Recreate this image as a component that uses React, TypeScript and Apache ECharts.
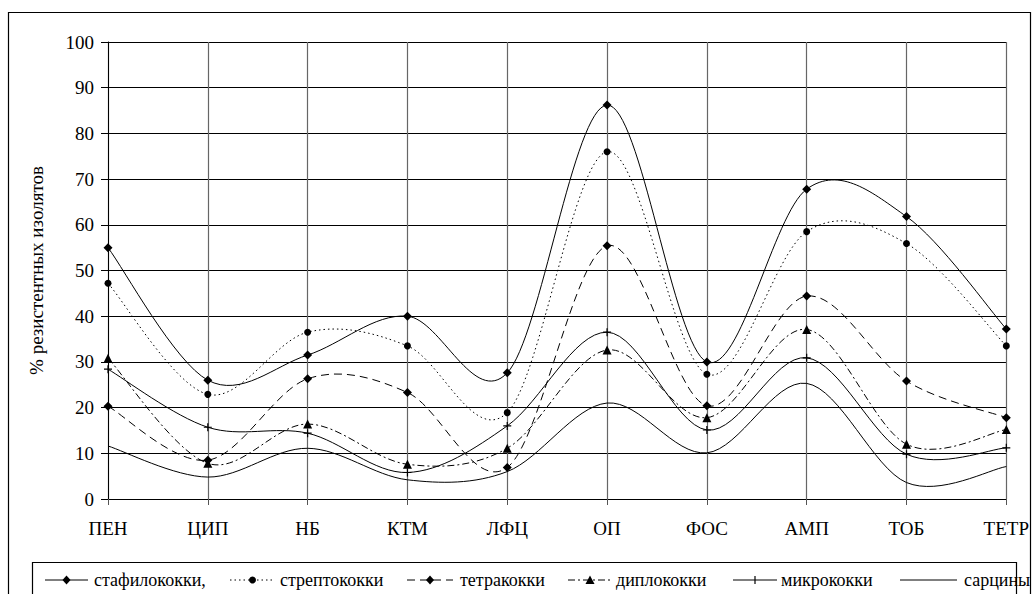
import React, { useEffect, useRef } from 'react';
import * as echarts from 'echarts';

const categories = ['ПЕН', 'ЦИП', 'НБ', 'КТМ', 'ЛФЦ', 'ОП', 'ФОС', 'АМП', 'ТОБ', 'ТЕТР'];
const seriesNames = ['стафилококки,', 'стрептококки', 'тетракокки', 'диплококки', 'микрококки', 'сарцины'];
const staphylococci = [55, 26, 31.5, 40, 27.6, 86.2, 30, 67.8, 61.8, 37.2];
const streptococci = [47.2, 22.9, 36.5, 33.5, 18.9, 76, 27.3, 58.5, 55.9, 33.5];
const tetracocci = [20.3, 8.5, 26.3, 23.3, 6.9, 55.4, 20.4, 44.4, 25.8, 17.8];
const diplococci = [30.8, 7.8, 16.4, 7.6, 11.1, 32.6, 17.8, 37.1, 12, 15.2];
const micrococci = [28.4, 15.7, 14.4, 5.8, 16, 36.5, 15.1, 30.9, 9.8, 11.2];
const sarcinae = [11.6, 4.8, 11.1, 4.2, 6, 21, 10.1, 25.3, 3.6, 7.1];
const yMin = 0;
const yMax = 100;
const yStep = 10;
const yAxisTitle = '% резистентных изолятов';

const FONT_X = 'serif';
const FONT_Y = 'Times New Roman';
const FONT_NAME = 'Liberation Serif';
const FONT_LEGEND = 'Times New Roman';
const PLUS = 'path://M-0.6,-4H0.6V-0.6H4V0.6H0.6V4H-0.6V0.6H-4V-0.6H-0.6Z';

type Spec = {
  name: string;
  data: number[];
  symbol: string;
  size: number;
  dash: number[] | null;
};

const specs: Spec[] = [
  { name: seriesNames[0], data: staphylococci, symbol: 'diamond', size: 9, dash: null },
  { name: seriesNames[1], data: streptococci, symbol: 'circle', size: 7, dash: [1.5, 3] },
  { name: seriesNames[2], data: tetracocci, symbol: 'diamond', size: 9, dash: [8, 5] },
  { name: seriesNames[3], data: diplococci, symbol: 'triangle', size: 9, dash: [7, 3, 2, 3] },
  { name: seriesNames[4], data: micrococci, symbol: PLUS, size: 8, dash: null },
  { name: seriesNames[5], data: sarcinae, symbol: 'none', size: 0, dash: null },
];

// Excel-like (Catmull-Rom) smoothed curve through the data, in pixel space
function curveSeries(s: Spec) {
  return {
    type: 'custom',
    data: [[0, 0]],
    silent: true,
    z: 2,
    clip: false,
    renderItem: (_params: any, api: any) => {
      const pts = s.data.map((v, i) => api.coord([i, v]));
      let d = `M${pts[0][0]},${pts[0][1]}`;
      for (let i = 0; i < pts.length - 1; i++) {
        const p0 = pts[i - 1] || pts[i];
        const p1 = pts[i];
        const p2 = pts[i + 1];
        const p3 = pts[i + 2] || pts[i + 1];
        const c1x = p1[0] + (p2[0] - p0[0]) / 6;
        const c1y = p1[1] + (p2[1] - p0[1]) / 6;
        const c2x = p2[0] - (p3[0] - p1[0]) / 6;
        const c2y = p2[1] - (p3[1] - p1[1]) / 6;
        d += ` C${c1x},${c1y} ${c2x},${c2y} ${p2[0]},${p2[1]}`;
      }
      return {
        type: 'path',
        shape: { pathData: d },
        style: {
          fill: 'none',
          stroke: '#000',
          lineWidth: 1,
          lineDash: s.dash || undefined,
        },
      };
    },
  };
}

function markerSeries(s: Spec) {
  return {
    type: 'scatter',
    name: s.name,
    data: s.data,
    symbol: s.symbol,
    symbolSize: s.size,
    itemStyle: { color: '#000', opacity: 1 },
    silent: true,
    z: 4,
  };
}

function legendGraphics() {
  const lines = [
    [45, 88, 94],
    [230, 275, 280],
    [407, 453, 460],
    [568, 612, 616],
    [733, 777, 781],
    [900, 957, 964],
  ];
  const y = 580;
  const els: any[] = [];
  specs.forEach((s, i) => {
    const [x1, x2, tx] = lines[i];
    const cx = (x1 + x2) / 2;
    els.push({
      type: 'line',
      shape: { x1, y1: y, x2, y2: y },
      style: { stroke: '#000', lineWidth: 1, lineDash: s.dash || undefined },
      silent: true,
    });
    if (s.symbol === 'diamond') {
      els.push({
        type: 'polygon',
        shape: { points: [[cx, y - 4.5], [cx + 4, y], [cx, y + 4.5], [cx - 4, y]] },
        style: { fill: '#000' },
        silent: true,
      });
    } else if (s.symbol === 'circle') {
      els.push({ type: 'circle', shape: { cx, cy: y, r: 3.5 }, style: { fill: '#000' }, silent: true });
    } else if (s.symbol === 'triangle') {
      els.push({
        type: 'polygon',
        shape: { points: [[cx, y - 4.5], [cx + 4.5, y + 4], [cx - 4.5, y + 4]] },
        style: { fill: '#000' },
        silent: true,
      });
    } else if (s.symbol === PLUS) {
      els.push({
        type: 'line',
        shape: { x1: cx, y1: y - 4, x2: cx, y2: y + 4 },
        style: { stroke: '#000', lineWidth: 1.2 },
        silent: true,
      });
    }
    els.push({
      type: 'text',
      x: tx,
      y,
      style: {
        text: s.name,
        fill: '#000',
        font: `18px ${FONT_LEGEND}`,
        verticalAlign: 'middle',
      },
      silent: true,
    });
  });
  return els;
}

export default function App() {
  const ref = useRef<HTMLDivElement>(null);
  useEffect(() => {
    if (!ref.current) return;
    const chart = echarts.init(ref.current, null, { renderer: 'svg' });
    chart.setOption({
      animation: false,
      backgroundColor: '#fff',
      grid: { left: 108, right: 25, top: 42, bottom: 95 },
      xAxis: {
        type: 'category',
        data: categories,
        boundaryGap: false,
        axisLine: { lineStyle: { color: '#000', width: 1 } },
        axisTick: { show: true, length: 6, lineStyle: { color: '#555' } },
        axisLabel: { color: '#000', fontSize: 19, fontFamily: FONT_X, margin: 20 },
        splitLine: { show: true, lineStyle: { color: '#666', width: 1.2 } },
      },
      yAxis: {
        type: 'value',
        min: yMin,
        max: yMax,
        interval: yStep,
        name: yAxisTitle,
        nameLocation: 'middle',
        nameGap: 62,
        nameTextStyle: { color: '#000', fontSize: 19, fontFamily: FONT_NAME },
        axisLine: { show: true, lineStyle: { color: '#000', width: 1 } },
        axisTick: { show: true, length: 7, lineStyle: { color: '#000' } },
        axisLabel: { color: '#000', fontSize: 19, fontFamily: FONT_Y, margin: 14 },
        splitLine: { show: true, lineStyle: { color: '#000', width: 1 } },
      },
      graphic: [
        {
          type: 'rect',
          shape: { x: 8.5, y: 12.5, width: 1022, height: 600 },
          style: { fill: 'none', stroke: '#000', lineWidth: 1.2 },
          silent: true,
        },
        {
          type: 'rect',
          shape: { x: 32.5, y: 562.5, width: 984, height: 60 },
          style: { fill: 'none', stroke: '#000', lineWidth: 1.2 },
          silent: true,
        },
        ...legendGraphics(),
      ],
      series: [...specs.map(curveSeries), ...specs.filter((s) => s.symbol !== 'none').map(markerSeries)],
    });
    return () => chart.dispose();
  }, []);
  return (
    <div
      ref={ref}
      style={{ position: 'fixed', left: 0, top: 0, width: 1032, height: 594, background: '#fff' }}
    />
  );
}
